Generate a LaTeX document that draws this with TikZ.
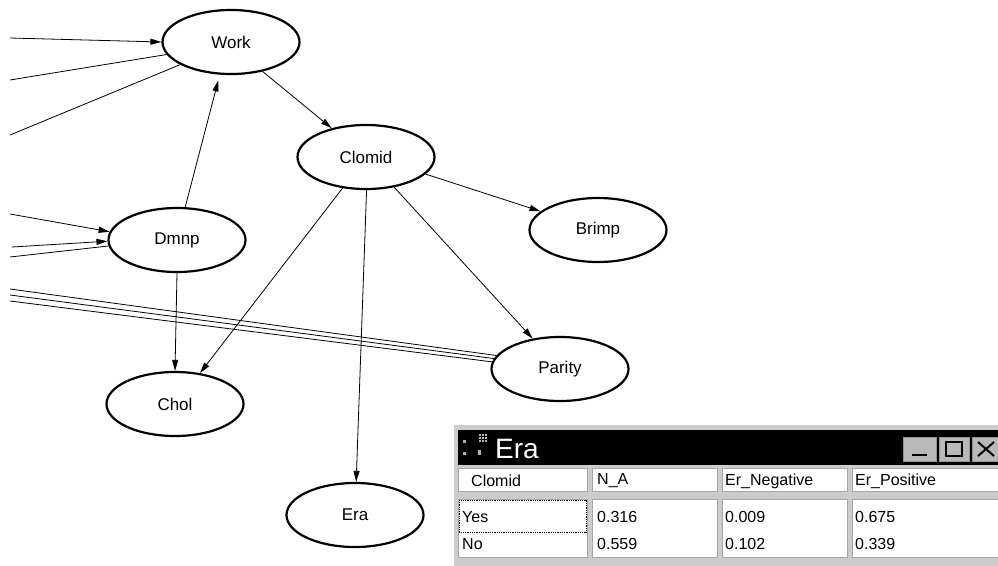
\documentclass[tikz,border=0pt]{standalone}
\usepackage{fontspec}
\setmainfont{Liberation Sans}
\usetikzlibrary{shapes.geometric,arrows.meta}
\begin{document}
\begin{tikzpicture}[x=1pt,y=-1pt,
  nd/.style={ellipse,draw,line width=2.2pt,minimum width=137pt,minimum height=64pt,inner sep=0pt,font=\fontsize{17}{20}\selectfont},
  arr/.style={line width=0.8pt,-{Triangle[length=11pt,width=6pt]}},
  ln/.style={line width=0.8pt},
  cell/.style={fill=white,draw=gray!70,line width=0.8pt},
  tt/.style={anchor=west,inner sep=0pt,font=\fontsize{16}{18}\selectfont},
  btn/.style={fill=gray!55,draw=gray!85,line width=0.8pt}]
\useasboundingbox (0,0) rectangle (998,565);
% nodes
\node[nd] (work)   at (231,42)  {Work};
\node[nd] (clomid) at (366,157) {Clomid};
\node[nd] (brimp)  at (598,230) {Brimp};
\node[nd] (dmnp)   at (177,240) {Dmnp};
\node[nd] (parity) at (560,369) {Parity};
\node[nd] (chol)   at (175,404) {Chol};
\node[nd] (era)    at (355,515) {Era};
% free ends at left
\coordinate (w1) at (10,38);
\coordinate (w2) at (10,80);
\coordinate (w3) at (10,135);
\coordinate (d1) at (10,214);
\coordinate (d2) at (12,247);
\coordinate (d3) at (10,257);
\coordinate (p1) at (10,289);
\coordinate (p2) at (10,295);
\coordinate (p3) at (10,301);
% connectors
\draw[arr] (w1) -- (work.180);
\draw[ln] (w2) -- (work.191);
\draw[ln] (w3) -- (work.204);
\draw[arr] (d1) -- (dmnp.173);
\draw[arr] (d2) -- (dmnp.181);
\draw[ln] (d3) -- (dmnp.185);
\draw[ln] (p1) -- (parity.168);
\draw[ln] (p2) -- (parity.171);
\draw[ln] (p3) -- (parity.174);
\draw[arr,shorten >=6pt] (dmnp.76) -- (work.251);
\draw[arr] (work.317) -- (clomid.140);
\draw[arr] (clomid.344) -- (brimp.162);
\draw[arr] (clomid.313) -- (parity.132);
\draw[arr] (clomid.271) -- (era.88);
\draw[arr] (clomid.233) -- (chol.51);
\draw[arr] (dmnp.270) -- (chol.90);
% table window
\fill[gray!40] (454,425) rectangle (1000,566);
\fill[black] (458,430) rectangle (998,465);
\fill[gray!60] (463,440) rectangle (466,443);
\fill[gray!60] (463,452) rectangle (466,455);
\foreach \i in {0,3,6}{\foreach \j in {0,3,6}{\fill[gray!60] (479+\i,434+\j) rectangle (481+\i,436+\j);}}
\fill[gray!60] (478,450) rectangle (481,455);
\node[anchor=west,inner sep=0pt,text=white,font=\fontsize{28}{30}\selectfont] (title) at (495,449) {Era};
\draw[btn] (903,437) rectangle (936,461);
\draw[black,line width=1.6pt] (912,455) -- (927,455);
\draw[btn] (939,437) rectangle (969,461);
\draw[black,line width=1.2pt] (946,442) rectangle (962,456);
\draw[btn] (972,437) rectangle (1000,461);
\draw[black,line width=2pt] (978,442) -- (994,456) (978,456) -- (994,442);
% header cells
\draw[cell] (458,468) rectangle (587,491);
\draw[cell] (592,468) rectangle (717,491);
\draw[cell] (722,468) rectangle (847,491);
\draw[cell] (852,468) rectangle (1000,491);
\node[tt] at (471,481) {Clomid};
\node[tt] at (597,481) {N\_A};
\node[tt] at (725,481) {Er\_Negative};
\node[tt] at (855,481) {Er\_Positive};
% data cells
\draw[cell] (458,499) rectangle (587,557);
\draw[cell] (592,499) rectangle (717,557);
\draw[cell] (722,499) rectangle (847,557);
\draw[cell] (852,499) rectangle (1000,557);
\draw[densely dotted,line width=0.8pt] (459,500) rectangle (586,532);
\node[tt] at (462,517) {Yes};
\node[tt] at (462,544) {No};
\node[tt] at (597,517) {0.316};
\node[tt] at (597,544) {0.559};
\node[tt] at (725,517) {0.009};
\node[tt] at (725,544) {0.102};
\node[tt] at (855,517) {0.675};
\node[tt] at (855,544) {0.339};
\end{tikzpicture}
\end{document}
